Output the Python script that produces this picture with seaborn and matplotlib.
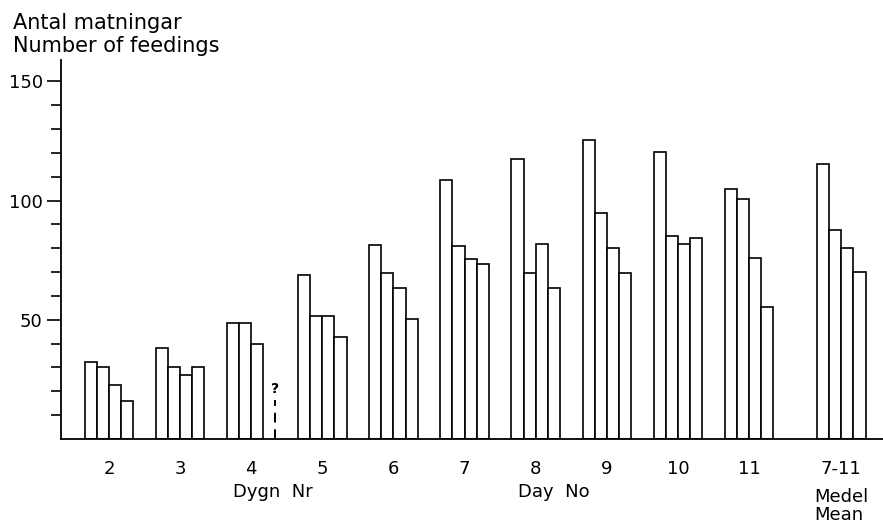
import numpy as np
import pandas as pd
import matplotlib
matplotlib.use('Agg')
import matplotlib.pyplot as plt
import matplotlib.transforms as mtransforms
from matplotlib.ticker import FixedLocator
import seaborn as sns

# Day groups
days = ['2', '3', '4', '5', '6', '7', '8', '9', '10', '11', '7-11']
bar1 = [32.5, 38.0, 48.5, 69.0, 81.5, 108.5, 117.5, 125.5, 120.5, 105.0, 115.5]
bar2 = [30.0, 30.0, 48.5, 51.5, 69.5, 81.0, 69.5, 95.0, 85.0, 100.5, 87.5]
bar3 = [22.5, 27.0, 40.0, 51.5, 63.5, 75.5, 82.0, 80.0, 82.0, 76.0, 80.0]
bar4 = [16.0, 30.0, np.nan, 43.0, 50.5, 73.5, 63.5, 69.5, 84.5, 55.5, 70.0]

# missing value on day 4 (dashed line with "?")
missing_day = '4'
missing_slot = 3
missing_height = 16.5

ylabel_lines = ['Antal matningar', 'Number of feedings']

# layout
positions = list(range(10)) + [10.3]
group_width = 0.68
n_slots = 4

rows = []
for pos, d, a, b, c, e in zip(positions, days, bar1, bar2, bar3, bar4):
    for slot, v in enumerate([a, b, c, e]):
        rows.append({'pos': pos, 'day': d, 'slot': slot, 'value': v})
df = pd.DataFrame(rows)

sns.set_style('ticks')
plt.rcParams['font.family'] = ['DejaVu Sans']
plt.rcParams['text.color'] = 'black'

fig = plt.figure(figsize=(8.83, 5.26), dpi=100)
ax = fig.add_axes([60.7 / 883, 87 / 526, 1 - 60.7 / 883, (439 - 60) / 526])

sns.barplot(data=df, x='pos', y='value', hue='slot', native_scale=True,
            dodge=True, width=group_width, palette=['white'] * n_slots,
            edgecolor='black', linewidth=1.2, errorbar=None, legend=False,
            ax=ax)

# dashed marker for the missing bar
bw = group_width / n_slots
mx = positions[days.index(missing_day)] + (missing_slot - (n_slots - 1) / 2) * bw + bw / 2
ax.plot([mx, mx], [0, missing_height], color='black', lw=1.4,
        linestyle=(0, (5, 3.5)))
ax.text(mx, missing_height + 1.5, '?', ha='center', va='bottom',
        fontsize=10, fontweight='bold', color='black')

ax.set_xlim(-0.68, 10.886)
ax.set_ylim(0, 159)

ax.yaxis.set_major_locator(FixedLocator([50, 100, 150]))
ax.yaxis.set_minor_locator(FixedLocator([v for v in range(10, 160, 10) if v % 50]))
ax.tick_params(axis='y', which='major', length=10, width=1.2, pad=3,
               labelsize=13, colors='black')
ax.tick_params(axis='y', which='minor', length=7, width=1.2, colors='black')

ax.set_xticks(positions)
ax.set_xticklabels(days)
ax.tick_params(axis='x', length=0, pad=15, labelsize=13, colors='black')

ax.set_xlabel('')
ax.set_ylabel('')
sns.despine(ax=ax)
for side in ['left', 'bottom']:
    ax.spines[side].set_linewidth(1.3)
    ax.spines[side].set_color('black')

# axis titles
fig.text(13 / 883, 1 - 29 / 526, ylabel_lines[0], fontsize=15, va='baseline',
         ha='left', color='black')
fig.text(13 / 883, 1 - 52 / 526, ylabel_lines[1], fontsize=15, va='baseline',
         ha='left', color='black')

trans = mtransforms.blended_transform_factory(ax.transData, fig.transFigure)
ax.text(2.307, 1 - 492 / 526, 'Dygn  Nr', transform=trans, fontsize=13,
        ha='center', va='center', color='black')
ax.text(6.26, 1 - 492 / 526, 'Day  No', transform=trans, fontsize=13,
        ha='center', va='center', color='black')
ax.text(10.3, 1 - 506 / 526, 'Medel\nMean', transform=trans, fontsize=13,
        ha='center', va='center', multialignment='left', linespacing=1.0,
        color='black')

fig.savefig('out.png', dpi=100)
